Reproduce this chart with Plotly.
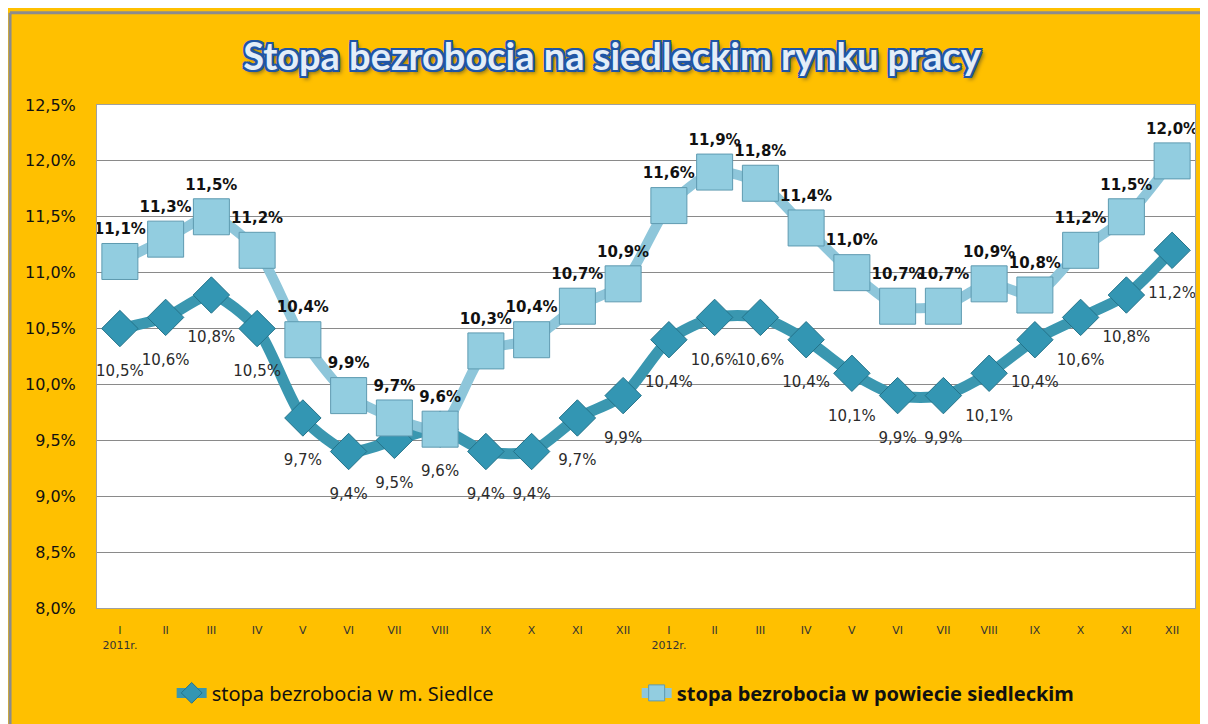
import plotly.graph_objects as go


# ==========================================
# Data
# ==========================================

months = ["I", "II", "III", "IV", "V", "VI", "VII", "VIII", "IX", "X", "XI", "XII"] * 2
year_labels = {0: "2011r.", 12: "2012r."}

siedlce = [10.5, 10.6, 10.8, 10.5, 9.7, 9.4, 9.5, 9.6, 9.4, 9.4, 9.7, 9.9,
           10.4, 10.6, 10.6, 10.4, 10.1, 9.9, 9.9, 10.1, 10.4, 10.6, 10.8, 11.2]
powiat = [11.1, 11.3, 11.5, 11.2, 10.4, 9.9, 9.7, 9.6, 10.3, 10.4, 10.7, 10.9,
          11.6, 11.9, 11.8, 11.4, 11.0, 10.7, 10.7, 10.9, 10.8, 11.2, 11.5, 12.0]

y_ticks = [8.0, 8.5, 9.0, 9.5, 10.0, 10.5, 11.0, 11.5, 12.0, 12.5]


def pct(v):
    return f"{v:.1f}%".replace(".", ",")


x = list(range(len(months)))
tick_text = [m + ("<br>" + year_labels[i] if i in year_labels else "<br> ")
             for i, m in enumerate(months)]

ORANGE = "#FFC000"
GREY = "#8C8C8C"


# ==========================================
# Figure
# ==========================================

fig = go.Figure()

fig.add_trace(go.Scatter(
    x=x, y=siedlce,
    name="stopa bezrobocia w m. Siedlce",
    mode="lines+markers",
    line=dict(color="#3A97B0", width=11, shape="spline", smoothing=0.7),
    marker=dict(symbol="diamond", size=28, color="#3396B3",
                line=dict(color="#24738A", width=1)),
))

# labels for the city series, pushed a bit further below the diamonds
fig.add_trace(go.Scatter(
    x=x, y=siedlce,
    mode="markers+text",
    marker=dict(size=56, opacity=0),
    text=[pct(v) for v in siedlce],
    textposition="bottom center",
    textfont=dict(family="DejaVu Sans", size=15, color="#2B2B2B"),
    showlegend=False, hoverinfo="skip",
))

fig.add_trace(go.Scatter(
    x=x, y=powiat,
    name="<b>stopa bezrobocia w powiecie siedleckim</b>",
    mode="lines+markers+text",
    line=dict(color="#8EC6DA", width=10, shape="spline", smoothing=0.7),
    marker=dict(symbol="square", size=36, color="#92CDE0",
                line=dict(color="#5E9AB0", width=1)),
    text=[pct(v) for v in powiat],
    textposition="top center",
    textfont=dict(family="DejaVu Sans", size=15, color="#111111", weight="bold"),
))

# outer frame: grey border on top / left
fig.add_shape(type="line", xref="paper", yref="paper",
              x0=-0.0792, x1=1.2, y0=1.1834, y1=1.1834,
              line=dict(color=GREY, width=3), layer="below")
fig.add_shape(type="line", xref="paper", yref="paper",
              x0=-0.0792, x1=-0.0792, y0=-0.3, y1=1.1834,
              line=dict(color=GREY, width=3), layer="below")

fig.update_layout(
    width=1200, height=716,
    margin=dict(l=89, r=13, t=97, b=104),
    paper_bgcolor=ORANGE,
    plot_bgcolor="white",
    separators=", ",
    title=dict(
        text="<b>Stopa bezrobocia na siedleckim rynku pracy</b>",
        x=0.469, xref="paper", xanchor="center",
        y=0.932, yanchor="middle",
        font=dict(family="Lato", size=38, color="#E4EEF8",
                  shadow="-2px -2px 0 #1F55A5, 2px -2px 0 #1F55A5, -2px 2px 0 #1F55A5, "
                         "2px 2px 0 #1F55A5, 0 2px 0 #1F55A5, 0 -2px 0 #1F55A5, "
                         "2px 0 0 #1F55A5, -2px 0 0 #1F55A5, 3px 3px 4px #6B5A2A"),
    ),
    legend=dict(
        orientation="h", x=0.068, xanchor="left", y=-0.13, yanchor="top",
        font=dict(family="Noto Sans", size=20, color="#111111"),
        bgcolor="rgba(0,0,0,0)",
        entrywidth=420,
    ),
    showlegend=True,
)

fig.update_xaxes(
    range=[-0.5, 23.5],
    tickvals=x, ticktext=tick_text,
    tickfont=dict(family="DejaVu Sans", size=11, color="#333333"),
    showgrid=False, zeroline=False,
    showline=True, linecolor="#A0A0A0", linewidth=1, mirror=True,
    ticks="", ticklabelstandoff=12,
)

fig.update_yaxes(
    range=[8.0, 12.5],
    tickvals=y_ticks, ticktext=[pct(v) for v in y_ticks],
    tickfont=dict(family="DejaVu Sans", size=16, color="#111111"),
    showgrid=True, gridcolor="#8A8A8A", gridwidth=1,
    zeroline=False,
    showline=True, linecolor="#A0A0A0", linewidth=1, mirror=True,
    ticks="", ticklabelstandoff=17,
)

fig.write_html("out.html")
